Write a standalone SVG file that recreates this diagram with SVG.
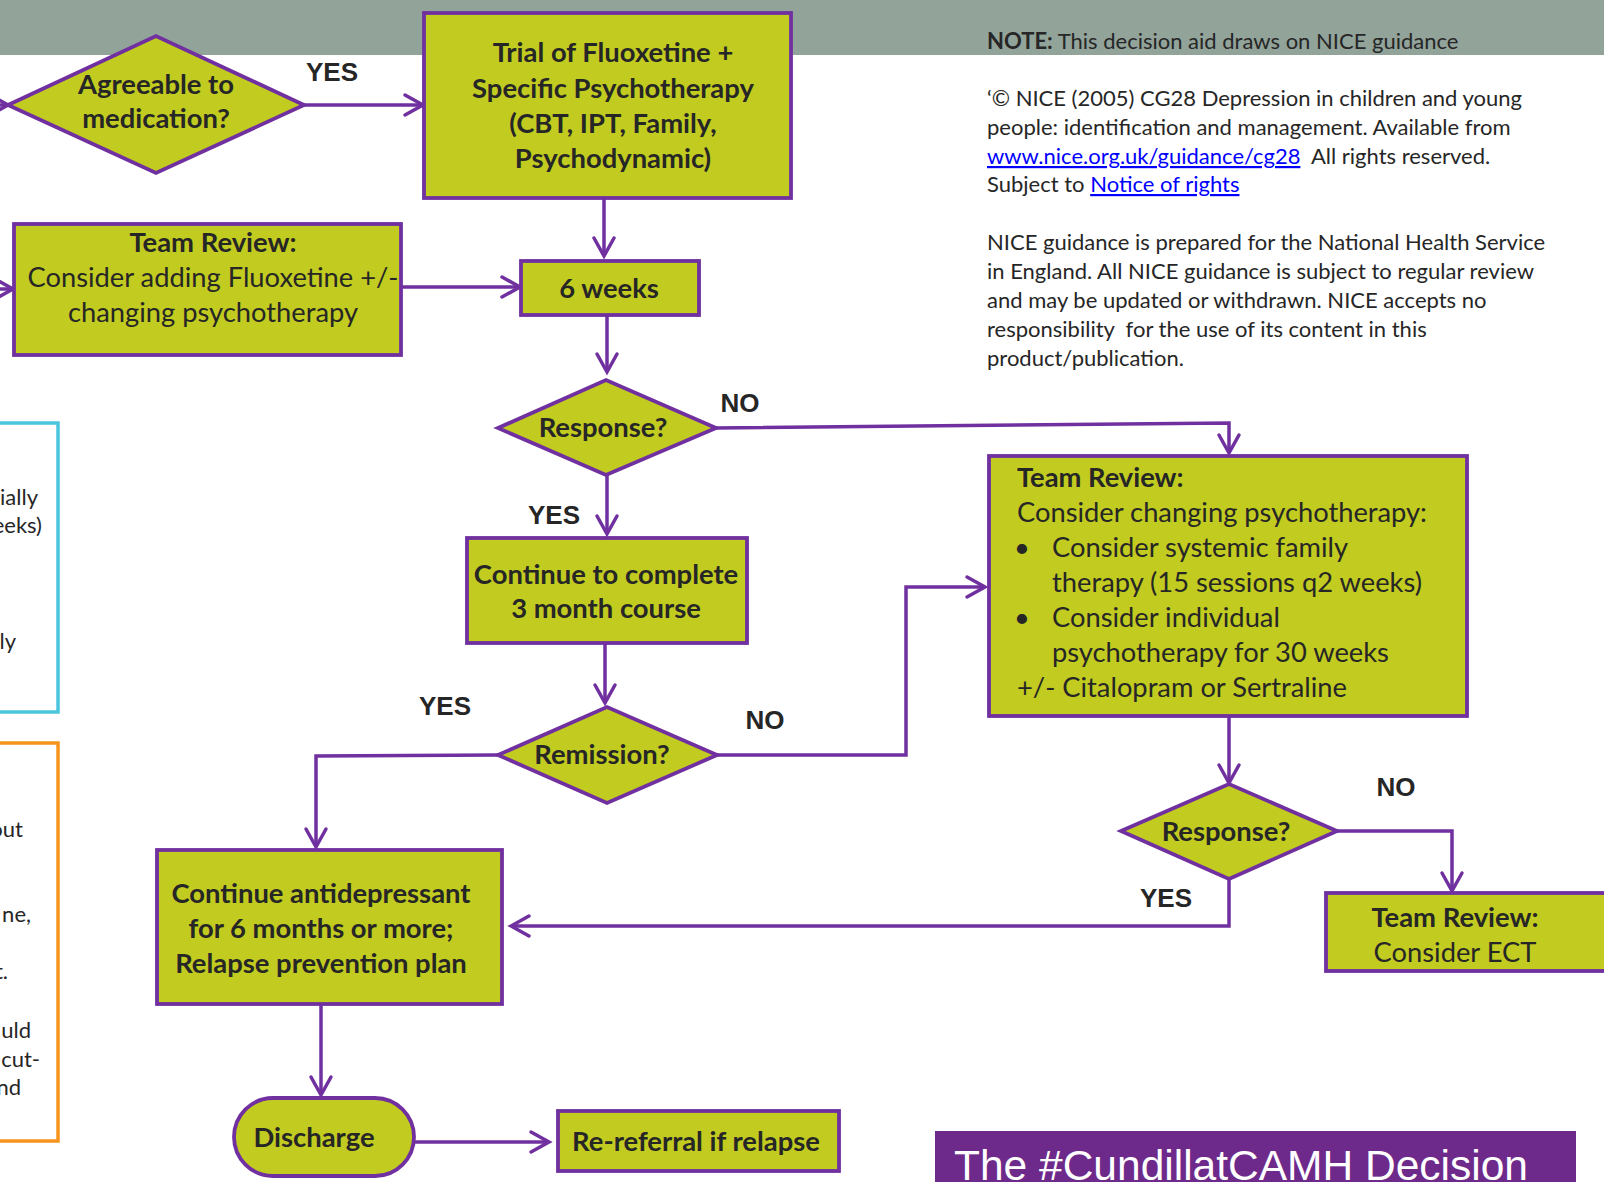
<svg xmlns="http://www.w3.org/2000/svg" width="1604" height="1182" viewBox="0 0 1604 1182">
<style>
.box{fill:#C2CB20;stroke:#7030A0;stroke-width:3.8}
.con{fill:none;stroke:#7030A0;stroke-width:3.5}
.nb{font-family:Lato,"Open Sans",sans-serif;font-weight:bold;font-size:27.4px;fill:#262626;text-anchor:middle}
.nr{font-family:Lato,"Open Sans",sans-serif;font-size:27.3px;fill:#262626}
.lbl{font-family:"Liberation Sans",Arial,sans-serif;font-weight:bold;font-size:26px;fill:#262626;text-anchor:middle}
.body{font-family:Lato,"Open Sans",sans-serif;font-size:22px;fill:#262626;white-space:pre}
.frag{font-family:Lato,"Open Sans",sans-serif;font-size:22px;fill:#262626;text-anchor:end}
.link{fill:#0000FF;text-decoration:underline}
</style>
<defs>
<marker id="arr" viewBox="-22 -14 30 28" markerWidth="30" markerHeight="28" refX="0" refY="0" orient="auto" markerUnits="userSpaceOnUse">
<path d="M-18,-10 L0,0 L-18,10" fill="none" stroke="#7030A0" stroke-width="3.5" stroke-linecap="round"/>
</marker>
</defs>
<rect x="0" y="0" width="1604" height="55" fill="#92A39A"/>
<g id="left-panels">
<rect x="-10" y="423" width="68" height="289" fill="none" stroke="#4BC5DE" stroke-width="3.5"/>
<rect x="-10" y="743" width="68" height="398" fill="none" stroke="#F7941D" stroke-width="3.5"/>
<text class="frag" x="38" y="505">ially</text>
<text class="frag" x="42" y="533">eeks)</text>
<text class="frag" x="16" y="649">ly</text>
<text class="frag" x="23" y="837">out</text>
<text class="frag" x="31" y="922">ne,</text>
<text class="frag" x="8" y="979">t.</text>
<text class="frag" x="31" y="1038">uld</text>
<text class="frag" x="40" y="1067">cut-</text>
<text class="frag" x="21" y="1095">nd</text>
</g>
<g id="connectors">
<path class="con" d="M-20,105 L8,105" marker-end="url(#arr)"/>
<path class="con" d="M-20,289 L13,289" marker-end="url(#arr)"/>
<path class="con" d="M304,105 L423,105" marker-end="url(#arr)"/>
<path class="con" d="M604,198 L604,256" marker-end="url(#arr)"/>
<path class="con" d="M401,287 L520,287" marker-end="url(#arr)"/>
<path class="con" d="M607,315 L607,372" marker-end="url(#arr)"/>
<path class="con" d="M716,428 L1229,423 L1229,453" marker-end="url(#arr)"/>
<path class="con" d="M607,475 L607,534" marker-end="url(#arr)"/>
<path class="con" d="M605,643 L605,703" marker-end="url(#arr)"/>
<path class="con" d="M717,755 L906,755 L906,587 L985,587" marker-end="url(#arr)"/>
<path class="con" d="M498,755 L316,756 L316,847" marker-end="url(#arr)"/>
<path class="con" d="M1229,716 L1229,783" marker-end="url(#arr)"/>
<path class="con" d="M1337,831 L1452,831 L1452,891" marker-end="url(#arr)"/>
<path class="con" d="M1229,879 L1229,926 L511,926" marker-end="url(#arr)"/>
<path class="con" d="M321,1004 L321,1095" marker-end="url(#arr)"/>
<path class="con" d="M414,1142 L549,1142" marker-end="url(#arr)"/>
<text class="lbl" x="332" y="81">YES</text>
<text class="lbl" x="740" y="412">NO</text>
<text class="lbl" x="554" y="524">YES</text>
<text class="lbl" x="445" y="715">YES</text>
<text class="lbl" x="765" y="729">NO</text>
<text class="lbl" x="1396" y="796">NO</text>
<text class="lbl" x="1166" y="907">YES</text>
</g>
<g id="agreeable">
<polygon class="box" points="8,105 156,36 304,105 156,173"/>
<text class="nb" x="156" y="94">Agreeable to</text>
<text class="nb" x="156" y="128">medication?</text>
</g>
<g id="trial">
<rect class="box" x="424" y="13" width="367" height="185"/>
<text class="nb" x="613" y="62">Trial of Fluoxetine +</text>
<text class="nb" x="613" y="98">Specific Psychotherapy</text>
<text class="nb" x="613" y="133">(CBT, IPT, Family,</text>
<text class="nb" x="613" y="168">Psychodynamic)</text>
</g>
<g id="team-review-1">
<rect class="box" x="14" y="224" width="387" height="131"/>
<text class="nb" x="213" y="252">Team Review:</text>
<text class="nr" x="213" y="287" text-anchor="middle">Consider adding Fluoxetine +/-</text>
<text class="nr" x="213" y="322" text-anchor="middle">changing psychotherapy</text>
</g>
<g id="six-weeks">
<rect class="box" x="521" y="261" width="178" height="54"/>
<text class="nb" x="609" y="298">6 weeks</text>
</g>
<g id="response-1">
<polygon class="box" points="498,428 606,380 716,428 606,475"/>
<text class="nb" x="603" y="437">Response?</text>
</g>
<g id="continue-course">
<rect class="box" x="467" y="538" width="280" height="105"/>
<text class="nb" x="606" y="584">Continue to complete</text>
<text class="nb" x="606" y="618">3 month course</text>
</g>
<g id="remission">
<polygon class="box" points="498,755 607,707 717,755 607,803"/>
<text class="nb" x="602" y="764">Remission?</text>
</g>
<g id="team-review-2">
<rect class="box" x="989" y="456" width="478" height="260"/>
<text class="nr" x="1017" y="487" font-weight="bold">Team Review:</text>
<text class="nr" x="1017" y="522">Consider changing psychotherapy:</text>
<text class="nr" x="1014" y="557">•</text>
<text class="nr" x="1052" y="557">Consider systemic family</text>
<text class="nr" x="1052" y="592">therapy (15 sessions q2 weeks)</text>
<text class="nr" x="1014" y="627">•</text>
<text class="nr" x="1052" y="627">Consider individual</text>
<text class="nr" x="1052" y="662">psychotherapy for 30 weeks</text>
<text class="nr" x="1017" y="697">+/- Citalopram or Sertraline</text>
</g>
<g id="response-2">
<polygon class="box" points="1121,831 1229,784 1337,831 1229,879"/>
<text class="nb" x="1226" y="841">Response?</text>
</g>
<g id="ect">
<rect class="box" x="1326" y="893" width="300" height="78"/>
<text class="nb" x="1455" y="927">Team Review:</text>
<text class="nr" x="1455" y="962" text-anchor="middle">Consider ECT</text>
</g>
<g id="continue-antidepressant">
<rect class="box" x="157" y="850" width="345" height="154"/>
<text class="nb" x="321" y="903">Continue antidepressant</text>
<text class="nb" x="321" y="938">for 6 months or more;</text>
<text class="nb" x="321" y="973">Relapse prevention plan</text>
</g>
<g id="discharge">
<rect class="box" x="234" y="1098" width="180" height="78" rx="39" ry="39"/>
<text class="nb" x="314" y="1147">Discharge</text>
</g>
<g id="re-referral">
<rect class="box" x="558" y="1111" width="281" height="60"/>
<text class="nb" x="696" y="1151">Re-referral if relapse</text>
</g>
<g id="note">
<text class="body" x="987" y="49"><tspan font-weight="bold">NOTE:</tspan> This decision aid draws on NICE guidance</text>
<text class="body" x="987" y="106">‘© NICE (2005) CG28 Depression in children and young</text>
<text class="body" x="987" y="135">people: identification and management. Available from</text>
<text class="body" x="987" y="164"><tspan class="link">www.nice.org.uk/guidance/cg28</tspan>  All rights reserved.</text>
<text class="body" x="987" y="192">Subject to <tspan class="link">Notice of rights</tspan></text>
<text class="body" x="987" y="250">NICE guidance is prepared for the National Health Service</text>
<text class="body" x="987" y="279">in England. All NICE guidance is subject to regular review</text>
<text class="body" x="987" y="308">and may be updated or withdrawn. NICE accepts no</text>
<text class="body" x="987" y="337">responsibility  for the use of its content in this</text>
<text class="body" x="987" y="366">product/publication.</text>
</g>
<g id="title">
<rect x="935" y="1131" width="641" height="60" fill="#6E2A8B"/>
<text x="954" y="1180" font-family="Liberation Sans,Arial,sans-serif" font-size="42.5" fill="#FFFFFF">The #CundillatCAMH Decision</text>
</g>
</svg>
